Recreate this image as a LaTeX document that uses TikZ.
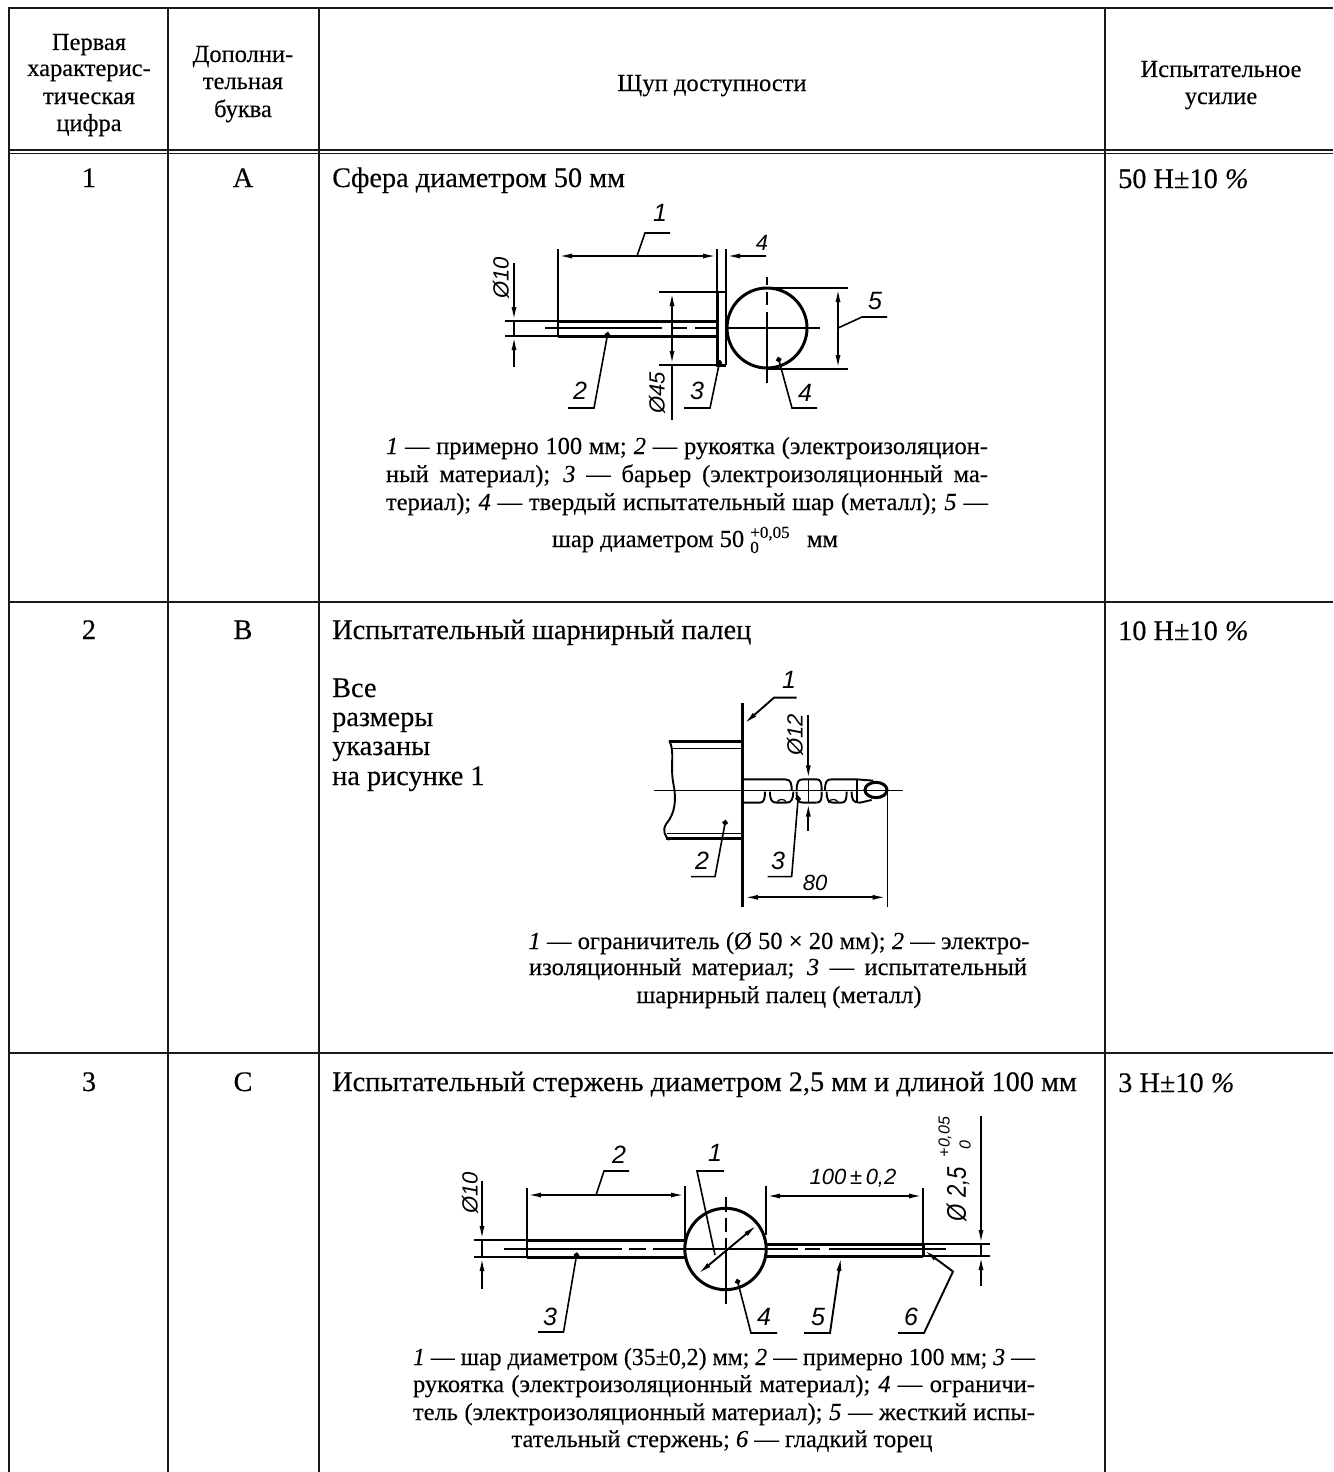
\documentclass[tikz,border=0pt]{standalone}
\usepackage{graphicx}
\usepackage{fontspec}
\setmainfont{Liberation Serif}[FakeBold=0.25]
\newfontfamily\drawfont[ItalicFont={Liberation Sans Italic}]{Liberation Sans}
\usetikzlibrary{arrows.meta}
\newcommand{\bodysz}{\fontsize{24.5}{28}\selectfont}
\newcommand{\bigsz}{\fontsize{28.3}{30}\selectfont}
\newsavebox{\fitbox}
\newcommand{\jl}[2]{\sbox{\fitbox}{#2}\ifdim\wd\fitbox>#1pt\relax\resizebox{#1pt}{\ht\fitbox}{\usebox{\fitbox}}\else\makebox[#1pt][s]{#2}\fi}
\newcommand{\tolr}[2]{\hbox{\fontsize{17}{17}\selectfont\rlap{\raisebox{9pt}{#1}}\raisebox{-6pt}{#2}\hspace{42pt}}}
\tikzset{
 tline/.style={line width=2pt,black!90},
 txt/.style={anchor=base,inner sep=0pt,font=\bodysz},
 txtb/.style={anchor=base,inner sep=0pt,font=\bigsz},
 txtl/.style={anchor=base west,inner sep=0pt,font=\bigsz},
 lab/.style={inner sep=0pt,font=\fontsize{25}{25}\selectfont\drawfont\itshape},
 slab/.style={inner sep=0pt,font=\fontsize{22}{22}\selectfont\drawfont\itshape},
 thin1/.style={line width=1.2pt},
 mid1/.style={line width=1.9pt},
 heavy/.style={line width=3pt},
 arr/.style={-{Latex[length=14pt,width=5pt]},line width=1.9pt},
 arrb/.style={{Latex[length=14pt,width=5pt]}-{Latex[length=14pt,width=5pt]},line width=1.9pt},
 dotl/.style={{Circle[length=5.5pt]}-,line width=1.6pt},
 lead/.style={line width=1.6pt},
}
\begin{document}
\begin{tikzpicture}[x=1pt,y=-1pt]
\useasboundingbox (0,0) rectangle (1333,1472);
% table
\draw[tline] (9,1472) -- (9,8) -- (1333,8);
\draw[tline] (168,8) -- (168,1472);
\draw[tline] (319,8) -- (319,1472);
\draw[line width=2.6pt,black!90] (1105,8) -- (1105,1472);
\draw[tline] (9,150) -- (1333,150);
\draw[line width=1.4pt,black!90] (9,153.5) -- (1333,153.5);
\draw[line width=1.4pt,black!90] (9,602) -- (1333,602);
\draw[line width=1.4pt,black!90] (9,1053) -- (1333,1053);
% header
\node[txt] (h1a) at (89,50) {Первая};
\node[txt] (h1b) at (89,76) {характерис-};
\node[txt] (h1c) at (89,104) {тическая};
\node[txt] (h1d) at (89,131) {цифра};
\node[txt] (h2a) at (243,62) {Дополни-};
\node[txt] (h2b) at (243,89) {тельная};
\node[txt] (h2c) at (243,117) {буква};
\node[txt] (h3) at (712,91) {Щуп доступности};
\node[txt] (h4a) at (1221,77) {Испытательное};
\node[txt] (h4b) at (1221,104) {усилие};
% row 1
\node[txtb] (r1a) at (89,187) {1};
\node[txtb] (r1b) at (243,187) {А};
\node[txtl] (r1c) at (332,187) {Сфера диаметром 50 мм};
\node[txtl] (r1d) at (1118,188) {50 Н±10 \textit{\%}};
\node[txt] (c1a) at (687,454) {\jl{602}{\textit{1} — примерно 100 мм; \textit{2} — рукоятка (электроизоляцион-}};
\node[txt] (c1b) at (687,482) {\jl{602}{ный материал); \textit{3} — барьер (электроизоляционный ма-}};
\node[txt] (c1c) at (687,510) {\jl{602}{териал); \textit{4} — твердый испытательный шар (металл); \textit{5} —}};
\node[txt] (c1d) at (695,547) {шар диаметром 50 \tolr{+0,05}{0} мм};
% row 2
\node[txtb] (r2a) at (89,639) {2};
\node[txtb] (r2b) at (243,639) {В};
\node[txtl] (r2c) at (332,639) {Испытательный шарнирный палец};
\node[txtl] (r2d) at (1118,640) {10 Н±10 \textit{\%}};
\node[txtl] (n1) at (332,697) {Все};
\node[txtl] (n2) at (332,726) {размеры};
\node[txtl] (n3) at (332,755) {указаны};
\node[txtl] (n4) at (332,785) {на рисунке 1};
\node[txt] (c2a) at (779,949) {\jl{501}{\textit{1} — ограничитель (Ø 50 × 20 мм); \textit{2} — электро-}};
\node[txt] (c2b) at (778,975) {\jl{498}{изоляционный материал; \textit{3} — испытательный}};
\node[txt] (c2c) at (779,1003) {шарнирный палец (металл)};
% row 3
\node[txtb] (r3a) at (89,1091) {3};
\node[txtb] (r3b) at (243,1091) {С};
\node[txtl] (r3c) at (332,1091) {Испытательный стержень диаметром 2,5 мм и длиной 100 мм};
\node[txtl] (r3d) at (1118,1092) {3 Н±10 \textit{\%}};
\node[txt] (c3a) at (724,1365) {\jl{622}{\textit{1} — шар диаметром (35±0,2) мм; \textit{2} — примерно 100 мм; \textit{3} —}};
\node[txt] (c3b) at (724,1392) {\jl{622}{рукоятка (электроизоляционный материал); \textit{4} — ограничи-}};
\node[txt] (c3c) at (724,1420) {\jl{622}{тель (электроизоляционный материал); \textit{5} — жесткий испы-}};
\node[txt] (c3d) at (722,1447) {тательный стержень; \textit{6} — гладкий торец};

% ===== drawing 1
\draw[heavy] (558,321) -- (717,321) (558,336) -- (717,336);
\draw[mid1] (558,249) -- (558,337);
\draw[mid1] (717,249) -- (717,292) (726,249) -- (726,292);
\draw[arrb] (558,256) -- (717,256);
\draw[arr] (766,256) -- (726,256);
\draw[heavy] (717,292) -- (717,365) -- (726,365);
\draw[mid1] (717,292) -- (726,292) -- (726,365);
\draw[thin1] (659,292) -- (717,292) (659,365) -- (717,365);
\draw[arrb] (672,292) -- (672,365);
\draw[mid1] (672,365) -- (672,420);
\draw[arr] (514,263) -- (514,321);
\draw[arr] (514,367) -- (514,336);
\draw[thin1] (514,321) -- (514,336);
\draw[thin1] (505,321) -- (558,321) (505,336) -- (558,336);
\draw[mid1] (545,328) -- (662,328) (673,328) -- (687,328) (695,328) -- (716,328);
\draw[thin1] (726,328) -- (820,328);
\draw[heavy] (767,328) circle[radius=40];
\draw[thin1] (767,277) -- (767,285) (767,292) -- (767,305) (767,312) -- (767,383);
\draw[thin1] (767,288) -- (848,288) (767,369) -- (848,369);
\draw[arrb] (838,288) -- (838,369);
\draw[lead] (637,256) -- (645,233) -- (670,233);
\draw[lead] (838,328) -- (862,317) -- (887,317);
\draw[dotl] (608,332) -- (594,408) -- (568,408);
\draw[dotl] (720,360) -- (710,408) -- (684,408);
\draw[dotl] (778,357) -- (792,408) -- (817,408);
\node[lab] (d1l1) at (660,213) {1};
\node[slab] (d1l4a) at (762,243) {4};
\node[lab] (d1l5) at (875,301) {5};
\node[lab] (d1l2) at (580,391) {2};
\node[lab] (d1l3) at (697,391) {3};
\node[lab] (d1l4b) at (805,393) {4};
\node[slab,rotate=90] (d1o10) at (501,278) {Ø10};
\node[slab,rotate=90] (d1o45) at (657,393) {Ø45};

% ===== drawing 2
\begin{scope}[shift={(620,660)},x=0.3333pt,y=-0.3333pt]
\draw[heavy] (368,130) -- (368,740);
\draw[heavy] (148,245) -- (365,245);
\draw[thin1] (155,265) -- (365,265);
\draw[thin1] (140,520) -- (365,520);
\draw[heavy] (138,537) -- (365,537);
\draw[mid1] (148,243) .. controls (165,270) and (150,320) .. (160,370) .. controls (170,420) and (165,460) .. (140,490) .. controls (125,510) and (135,530) .. (148,540);
\draw[thin1] (103,392) -- (850,392);
% finger
\draw[mid1,line join=round] (372,358) -- (495,358) .. controls (515,358) and (515,375) .. (515,392);
\draw[mid1] (530,392) .. controls (530,365) and (535,358) .. (550,358) -- (590,358) .. controls (603,358) and (605,370) .. (605,392);
\draw[mid1] (615,392) .. controls (615,365) and (620,358) .. (635,358) -- (710,358) -- (760,362);
\draw[mid1] (710,358) -- (710,425);
\draw[mid1] (372,428) -- (420,428) .. controls (432,428) and (435,415) .. (435,395);
\draw[mid1] (450,395) .. controls (450,420) and (455,428) .. (470,428) -- (500,428) .. controls (515,428) and (520,415) .. (520,395);
\draw[mid1] (530,395) .. controls (530,420) and (535,428) .. (550,428) -- (590,428);
\draw[mid1] (620,395) .. controls (620,420) and (625,428) .. (640,428) -- (665,428) .. controls (678,428) and (680,415) .. (680,395);
\draw[mid1] (695,395) .. controls (695,420) and (700,428) .. (720,428) -- (755,420);
\draw[mid1] (590,428) .. controls (605,428) and (605,415) .. (605,395);
\draw[thin1] (470,428) .. controls (475,415) and (495,415) .. (500,428);
\draw[thin1] (625,428) .. controls (630,415) and (650,415) .. (655,428);
\draw[heavy] (768,390) ellipse[x radius=33,y radius=23];
\draw[arr] (565,165) -- (565,358);
\draw[thin1] (565,358) -- (565,428);
\draw[arr] (565,512) -- (565,428);
\draw[thin1] (802,392) -- (802,740);
\draw[arrb] (372,712) -- (800,712);
\draw[arr] (530,113) -- (462,113) -- (372,192);
\draw[dotl] (317,480) -- (285,650) -- (213,650);
\draw[dotl] (535,408) -- (515,650) -- (443,650);
\end{scope}
\node[lab] (d2l1) at (789,680) {1};
\node[lab] (d2l2) at (702,861) {2};
\node[lab] (d2l3) at (778,861) {3};
\node[slab] (d2l80) at (815,883) {80};
\node[slab,rotate=90] (d2o12) at (795,735) {Ø12};

% ===== drawing 3
\draw[heavy] (527,1240) -- (685,1240) (527,1257) -- (685,1257);
\draw[mid1] (527,1188) -- (527,1257);
\draw[mid1] (685,1186) -- (685,1240);
\draw[arrb] (527,1195) -- (685,1195);
\draw[thin1] (474,1240) -- (527,1240) (474,1257) -- (527,1257);
\draw[arr] (482,1181) -- (482,1240);
\draw[thin1] (482,1240) -- (482,1257);
\draw[arr] (482,1289) -- (482,1257);
\draw[mid1] (504,1249) -- (622,1249) (629,1249) -- (646,1249) (653,1249) -- (684,1249);
\draw[thin1] (684,1249) -- (767,1249);
\draw[mid1] (767,1249) -- (798,1249) (805,1249) -- (820,1249) (829,1249) -- (946,1249);
\draw[heavy] (725.5,1249) circle[radius=40.7];
\draw[thin1] (726,1197) -- (726,1212) (726,1218) -- (726,1232) (726,1238) -- (726,1304);
\draw[arrb] (698,1274) -- (757,1225);
\draw[lead] (715,1255) -- (697,1171) -- (724,1171);
\draw[mid1] (766,1186) -- (766,1235);
\draw[mid1] (923,1188) -- (923,1245);
\draw[arrb] (766,1196) -- (923,1196);
\draw[heavy] (766,1244) -- (923,1244) (766,1256) -- (923,1256);
\draw[heavy] (923,1244) -- (923,1256);
\draw[mid1] (923,1244) -- (990,1244) (923,1256) -- (990,1256);
\draw[arr] (981,1116) -- (981,1244);
\draw[thin1] (981,1244) -- (981,1256);
\draw[arr] (981,1286) -- (981,1256);
\draw[lead] (596,1195) -- (604,1171) -- (629,1171);
\draw[dotl] (577,1252.5) -- (563.5,1332) -- (538,1332);
\draw[dotl] (737,1279) -- (751,1333) -- (777,1333);
\draw[arr] (804,1333) -- (830,1333) -- (841,1257);
\draw[arr] (898,1333) -- (924,1333) -- (953,1271.5) -- (924,1250);
\node[lab] (d3l2) at (619,1155) {2};
\node[lab] (d3l1) at (715,1153) {1};
\node[lab] (d3l3) at (550,1317) {3};
\node[lab] (d3l4) at (764,1317) {4};
\node[lab] (d3l5) at (818,1317) {5};
\node[lab] (d3l6) at (911,1317) {6};
\node[slab] (d3t) at (853,1178) {100\,±\,0,2};
\node[slab,rotate=90] (d3o10) at (470,1193) {Ø10};
\node[inner sep=0pt,rotate=90,font=\fontsize{27}{27}\selectfont\drawfont\itshape] (d3o25) at (958,1194) {\scalebox{0.82}[1]{Ø 2,5}};
\node[inner sep=0pt,rotate=90,font=\fontsize{16}{16}\selectfont\drawfont\itshape] (d3pl) at (945,1137) {+0,05};
\node[inner sep=0pt,rotate=90,font=\fontsize{16}{16}\selectfont\drawfont\itshape] (d3z) at (965,1145) {0};
\end{tikzpicture}
\end{document}
